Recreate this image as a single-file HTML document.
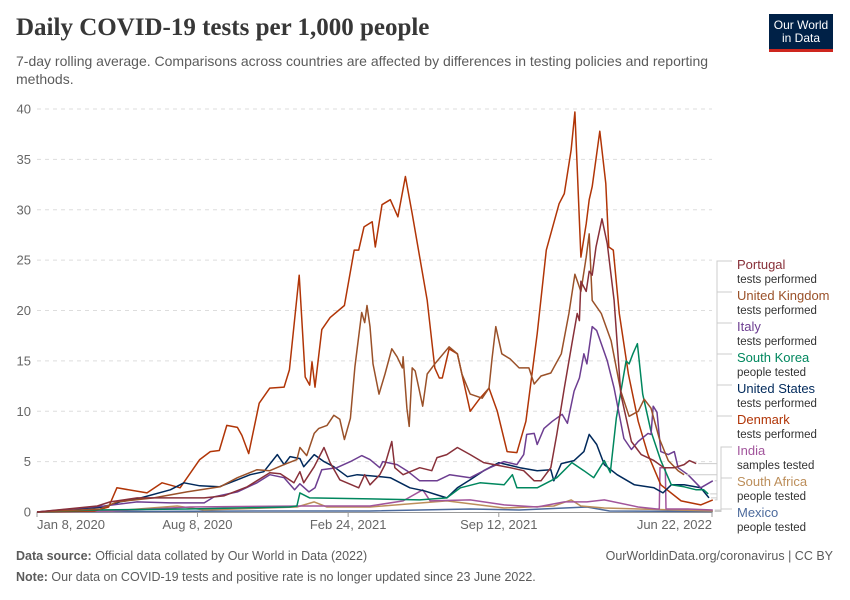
<!DOCTYPE html>
<html><head><meta charset="utf-8"><style>
body{margin:0;background:#fff;font-family:"Liberation Sans",sans-serif;}
#wrap{position:relative;width:850px;height:600px;overflow:hidden;}
.title{position:absolute;left:16px;top:14px;font-family:"Liberation Serif",serif;font-weight:bold;font-size:25px;color:#373737;}
.sub{position:absolute;left:16px;top:52px;width:740px;font-size:14px;line-height:18px;color:#5b5b5b;}
.logo{position:absolute;left:769px;top:14px;width:64px;height:38px;background:#002147;color:#fff;font-size:12px;line-height:13px;text-align:center;border-bottom:3px solid #ce261e;box-sizing:border-box;padding-top:5px;}
.foot{position:absolute;font-size:12.5px;color:#5b5b5b;}
</style></head><body><div id="wrap">
<div class="title">Daily COVID-19 tests per 1,000 people</div>
<div class="sub">7-day rolling average. Comparisons across countries are affected by differences in testing policies and reporting methods.</div>
<div class="logo">Our World<br>in Data</div>
<svg id="svg" width="850" height="600" style="position:absolute;left:0;top:0"></svg>
<div class="foot" style="left:16px;top:549px"><b>Data source:</b> Official data collated by Our World in Data (2022)</div>
<div class="foot" style="right:17px;top:549px">OurWorldinData.org/coronavirus | CC BY</div>
<div class="foot" style="left:16px;top:570px"><b>Note:</b> Our data on COVID-19 tests and positive rate is no longer updated since 23 June 2022.</div>
</div>
<script>
const yTicks=[0,5,10,15,20,25,30,35,40];
const xTickDays=[0,213,413,613,896];
const xTickLabels=["Jan 8, 2020","Aug 8, 2020","Feb 24, 2021","Sep 12, 2021","Jun 22, 2022"];
const countries=["Portugal","United Kingdom","Italy","South Korea","United States","Denmark","India","South Africa","Mexico"];
const metrics=["tests performed","tests performed","tests performed","people tested","tests performed","tests performed","samples tested","people tested","people tested"];
const colors=["#883039","#9A5129","#6D3E91","#00875E","#00295B","#B13507","#A2559C","#BC8E5A","#4C6A9C"];

const portugalDays=[0,80,97,133,222,248,279,309,323,341,349,354,368,381,389,402,427,435,442,455,462,471,475,486,508,524,531,544,558,575,593,607,628,646,660,669,682,690,700,710,717,720,722,729,733,737,742,750,757,766,775,789,802,819,832,846,859,866,875];
const portugalValues=[0,0.6,1,1.4,1.4,1.6,2.5,3.9,3.8,2.9,4,2.9,4.5,6.4,4.9,3.2,2.4,3.7,2.7,3.7,4.7,7,4.4,3.7,4.4,4.1,5.4,5.7,6.4,5.7,4.9,4.7,4.4,4.1,3.1,3.1,4.4,7.7,12.3,16.7,19.7,19,22.9,21.9,23.9,23.5,26.3,29.1,26.6,21,11.7,7,5.7,5.1,4.4,4.4,4.7,5.1,4.8];
const ukDays=[0,84,106,155,199,243,266,292,309,328,345,349,358,368,374,385,394,402,408,416,422,431,435,438,442,446,454,462,471,478,485,486,491,494,498,502,512,518,528,547,558,564,575,591,600,604,609,617,628,640,653,660,669,682,696,706,714,722,729,733,737,749,762,775,786,798,806,815,826,838,851,859];
const ukValues=[0,0.3,1,1.4,2,2.5,3.4,4.2,4.1,4.7,5.2,6.4,5.6,7.8,8.3,8.6,9.6,9.2,7.2,9.3,14.4,19.8,18.8,20.5,18.4,14.7,11.7,13.7,16.2,15.4,14.3,15.4,10.3,8.5,14.3,14,10.5,13.7,14.7,16.4,15.7,13.7,11.7,11.3,12.3,15.2,18.4,15.7,15.2,14.3,14.3,12.7,13.5,13.8,15.7,19.7,23.6,21.9,25.3,27.6,21,19.7,17,12,9.5,10,11.2,10.3,7.3,5.1,4.1,3.7];
const italyDays=[0,89,133,177,222,235,266,292,309,328,342,349,361,369,378,398,416,431,442,455,459,478,491,508,531,548,575,601,620,637,646,650,660,664,673,684,697,704,713,720,726,730,737,743,757,766,779,789,798,811,815,818,823,828,838,846,851,864,881,897];
const italyValues=[0,0.6,1,0.9,0.9,1.5,2,2.9,3.7,3.4,2.2,2.8,2,2.4,4.2,4.4,5,5.6,5.2,4.4,5,4.7,4.1,3.1,3.1,3.7,3.4,4.4,5,4.7,5.7,7.7,7.8,6.7,8.3,9,9.7,8.8,12,13.3,15.7,14.7,18.4,18,15,12.3,7.3,6.2,7,7.8,7.7,10.5,9.9,6,5.7,6,4.4,3.7,2.4,3.1];
const koreaDays=[0,76,200,335,345,349,362,442,508,544,562,588,620,631,637,664,690,710,726,739,753,761,769,782,786,791,797,804,815,828,842,859,875,885,891];
const koreaValues=[0,0.2,0.3,0.5,0.6,1.9,1.4,1.3,1.2,1.4,2.4,2.9,2.7,3.7,2.4,2.4,3.4,4.9,4.1,3.4,5.1,3.9,9.3,15,14.7,15.7,16.7,11.7,8,5.1,2.7,2.5,2.2,2.2,1.8];
const usDays=[0,89,110,133,177,195,216,242,266,283,301,319,328,336,349,354,368,381,394,412,425,442,469,495,514,531,544,558,575,593,613,624,641,664,682,686,696,713,726,733,743,753,770,793,819,831,842,859,881,892];
const usValues=[0,0.5,1,1.3,2.2,2.9,2.6,2.5,3.2,3.7,4,5.7,4.7,5.5,5.3,4.5,5.7,5,4.5,3.5,3.7,3.6,3.4,2.4,2.1,1.7,1.4,2.4,3.2,4.1,4.9,4.7,4.4,4.1,4.2,3.1,4.8,5.1,6,7.7,6.7,4.7,3.7,2.7,2.4,1.9,2.7,2.7,2.4,1.4];
const denmarkDays=[0,76,95,106,146,166,190,216,230,242,252,266,272,281,295,309,328,335,348,356,362,365,369,378,389,408,421,427,434,445,449,458,469,479,489,498,508,518,528,534,538,547,558,575,588,600,611,624,637,649,664,676,693,700,709,714,722,729,733,737,747,755,759,765,773,785,798,811,828,855,881,897];
const denmarkValues=[0,0.1,0.5,2.4,1.9,2.9,2.4,5.2,6,6.1,8.6,8.4,7.6,5.8,10.8,12.3,12.4,14.1,23.5,13.4,12.6,14.9,12.4,18.1,19.3,20.5,26,26,28.3,28.8,26.3,30.5,31,29.3,33.3,29.6,25.3,21,14.3,13.3,13.3,16.2,15.7,10,11.3,12.3,10,6,5.9,9,17.7,26,30.6,31.6,35.9,39.7,25.3,28.6,31,32.3,37.8,32.6,26.3,26,19.7,13.7,9,5.7,2.7,1.1,0.7,1.2];
const indiaDays=[0,100,203,354,442,486,512,522,575,620,664,700,730,753,798,823,826,827,834,835,864,897];
const indiaValues=[0,0.1,0.5,0.6,0.6,1.1,2.2,1.1,1.2,0.7,0.5,1,1,1.2,0.5,0.3,0.3,4.4,4.4,0.3,0.3,0.2];
const saDays=[0,100,186,222,345,368,385,442,544,620,686,709,722,753,850,897];
const saValues=[0,0.1,0.6,0.2,0.5,1,0.5,0.5,1.1,0.4,0.6,1.2,0.6,0.4,0.2,0.1];
const mexicoDays=[0,100,300,442,575,640,730,760,897];
const mexicoValues=[0,0.05,0.1,0.1,0.3,0.2,0.5,0.1,0.05];

const seriesDays=[portugalDays,ukDays,italyDays,koreaDays,usDays,denmarkDays,indiaDays,saDays,mexicoDays];
const seriesValues=[portugalValues,ukValues,italyValues,koreaValues,usValues,denmarkValues,indiaValues,saValues,mexicoValues];

const X0=37,X1=712,Y0=512,Y1=109,DMAX=896,VMAX=40;
const xs=d=>X0+d/DMAX*(X1-X0);
const ys=v=>Y0-v/VMAX*(Y0-Y1);
const svg=document.getElementById('svg');
const NS='http://www.w3.org/2000/svg';
function mk(t,a){const e=document.createElementNS(NS,t);for(const k in a)e.setAttribute(k,a[k]);svg.appendChild(e);return e;}

yTicks.forEach(t=>{
  if(t>0){const g=mk('line',{x1:X0,x2:X1,y1:ys(t),y2:ys(t),stroke:'#ddd','stroke-dasharray':'4,4'});
  
  }
  const l=mk('text',{x:31,y:ys(t)+4.5,'text-anchor':'end','font-size':13,fill:'#666','font-family':'Liberation Sans'});
  l.textContent=t;
  
  
});
const ax=mk('line',{x1:X0,x2:X1,y1:Y0+0.5,y2:Y0+0.5,stroke:'#999'});


xTickDays.forEach((d,i)=>{
  const tk=mk('line',{x1:xs(d),x2:xs(d),y1:Y0,y2:Y0+5,stroke:'#999'});
  
  
  const anchor=i==0?'start':(i==xTickDays.length-1?'end':'middle');
  const l=mk('text',{x:xs(d),y:529,'text-anchor':anchor,'font-size':13,fill:'#666','font-family':'Liberation Sans'});
  l.textContent=xTickLabels[i];
  
  
});
// draw series (reverse so first ones on top)
for(let i=countries.length-1;i>=0;i--){
  const pts=seriesDays[i].map((d,j)=>xs(d).toFixed(1)+','+ys(seriesValues[i][j]).toFixed(1)).join(' ');
  const p=mk('polyline',{points:pts,fill:'none',stroke:colors[i],'stroke-width':1.5,'stroke-linejoin':'round'});
  
  
}
// legend
countries.forEach((c,i)=>{
  const ly=265+i*31;
  const days=seriesDays[i], vals=seriesValues[i];
  const ex=xs(days[days.length-1]), ey=ys(vals[vals.length-1]);
  const bx=717+ (i<6? 0 : 4);
  const con=mk('polyline',{points:`${ex+2},${ey} ${bx},${ey} ${bx},${ly-4} ${732},${ly-4}`,fill:'none',stroke:'#ccc','stroke-width':1});
  
  
  const t=mk('text',{x:737,y:ly+4,'font-size':13,fill:colors[i],'font-family':'Liberation Sans'});
  t.textContent=c;
  
  
  const m=mk('text',{x:737,y:ly+18,'font-size':11.5,fill:'#333','font-family':'Liberation Sans'});
  m.textContent=metrics[i];
  
  
});
</script></body></html>
